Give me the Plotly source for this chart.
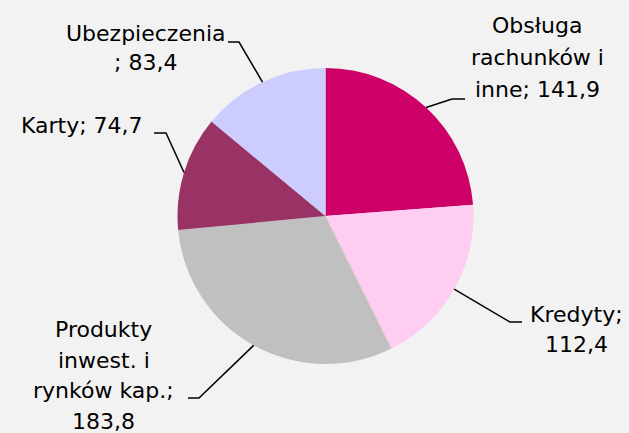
import math
import plotly.graph_objects as go

# ---- data ----
categories = ["Obsługa rachunków i inne", "Kredyty", "Produkty inwest. i rynków kap.", "Karty", "Ubezpieczenia"]
values = [141.9, 112.4, 183.8, 74.7, 83.4]
label_lines = [
    ["Obsługa", "rachunków i", "inne; 141,9"],
    ["Kredyty;", "112,4"],
    ["Produkty", "inwest. i", "rynków kap.;", "183,8"],
    ["Karty; 74,7"],
    ["Ubezpieczenia", "; 83,4"],
]
colors = ["#CC0066", "#FFCCF2", "#C0C0C0", "#993366", "#CCCCFF"]

W, H = 629, 433
CX, CY, R = 325.5, 216.0, 148.0
FS = 22

# label layout (pixels): text center x, first baseline, line step, leader elbow, leader end
label_layout = [
    dict(tx=537, by=33, step=32, elbow=(452, 99), end=(465, 99)),
    dict(tx=576, by=322, step=30, elbow=(510, 322), end=(522, 322)),
    dict(tx=104, by=337, step=30.5, elbow=(199, 398), end=(188, 398)),
    dict(tx=82, by=133, step=30, elbow=(166, 133), end=(154, 133)),
    dict(tx=145, by=41, step=29, elbow=(239, 42), end=(228, 42)),
]

def px(x):
    return x / W

def py(y):
    return 1 - y / H

fig = go.Figure(go.Pie(
    labels=categories, values=values, sort=False, direction="clockwise", rotation=0,
    marker=dict(colors=colors, line=dict(width=0)),
    textinfo="none", hoverinfo="label+value",
    domain=dict(x=[px(CX - R), px(CX + R)], y=[py(CY + R), py(CY - R)]),
    showlegend=False,
))

font = dict(family="DejaVu Sans, Verdana, sans-serif", size=FS, color="#000000")
total = sum(values)
cum = 0.0
shapes = []
annotations = []
for v, lines, lay in zip(values, label_lines, label_layout):
    mid = (cum + v / 2) / total * 2 * math.pi
    cum += v
    sx = CX + R * math.sin(mid)
    sy = CY - R * math.cos(mid)
    ex, ey = lay["elbow"]
    fx, fy = lay["end"]
    shapes.append(dict(
        type="path", xref="paper", yref="paper",
        path=f"M {px(sx)},{py(sy)} L {px(ex)},{py(ey)} L {px(fx)},{py(fy)}",
        line=dict(color="#000000", width=1.5),
    ))
    for i, line in enumerate(lines):
        base = lay["by"] + i * lay["step"]
        annotations.append(dict(
            x=px(lay["tx"]), y=py(base - 0.33 * FS), xref="paper", yref="paper",
            text=line, showarrow=False, xanchor="center", yanchor="middle",
            align="center", font=font,
        ))

fig.update_layout(
    width=W, height=H, margin=dict(l=0, r=0, t=0, b=0),
    paper_bgcolor="#F2F2F2", plot_bgcolor="#F2F2F2",
    shapes=shapes, annotations=annotations,
)

fig.write_html("out.html", config={"displayModeBar": False},
               post_script="document.body.style.margin='0';")
